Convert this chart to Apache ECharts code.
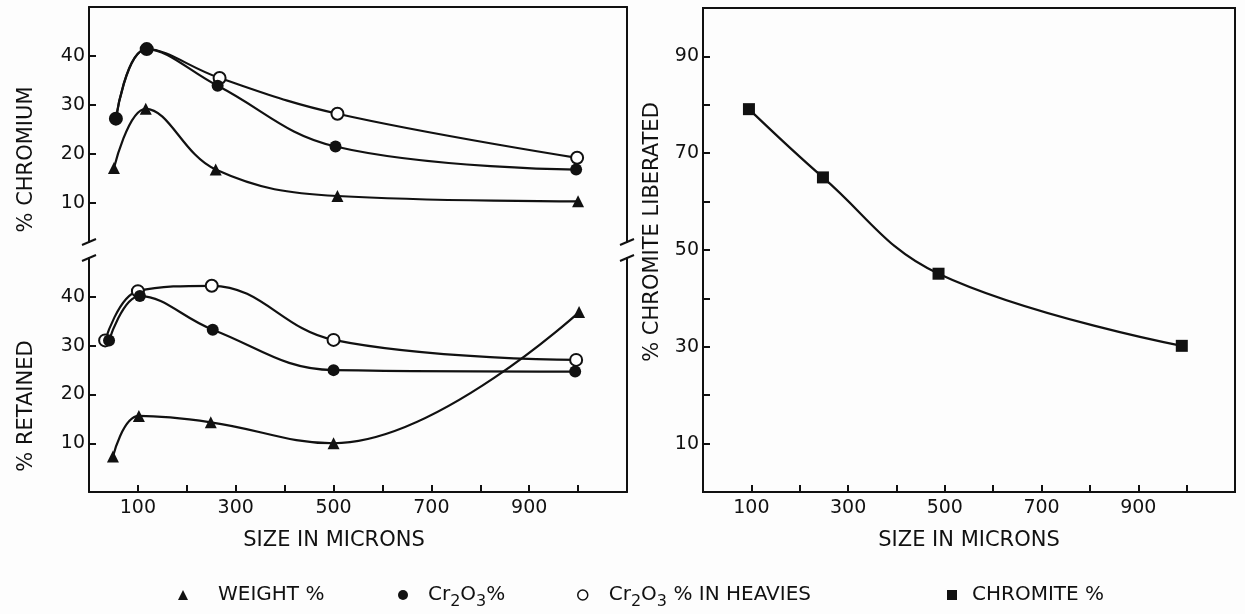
<!DOCTYPE html>
<html>
<head>
<meta charset="utf-8">
<script src="https://cdn.jsdelivr.net/npm/echarts@6/dist/echarts.min.js"></script>
<style>
html,body{margin:0;padding:0;background:#fdfdfd;}
#c{width:1245px;height:614px;}
</style>
</head>
<body>
<div id="c"></div>
<script>
// ---- data (size in microns, percent) ----
const chromiumWeight   = [[51,17.1],[116,29.2],[259,16.8],[508,11.4],[1000,10.3]];
const chromiumCr2O3    = [[55,27.2],[118,41.4],[263,33.9],[504,21.5],[996,16.8]];
const chromiumHeavies  = [[55,27.2],[118,41.4],[267,35.5],[508,28.2],[998,19.2]];
const retainedWeight   = [[49,7.3],[102,15.6],[249,14.3],[500,10.0],[1002,36.9]];
const retainedCr2O3    = [[41,31.1],[104,40.2],[253,33.3],[500,25.0],[994,24.7]];
const retainedHeavies  = [[33,31.1],[100,41.2],[251,42.3],[500,31.2],[996,27.1]];
const chromiteLiberated= [[95,79.1],[248,65.0],[487,45.1],[990,30.2]];

const xTicks = [100,200,300,400,500,600,700,800,900,1000];
const xLabels = [100,300,500,700,900];
const leftYTicks = [10,20,30,40];
const rightYTicks = [10,20,30,40,50,60,70,80,90];
const rightYLabels = [10,30,50,70,90];

const names = ['WEIGHT %','Cr2O3%','Cr2O3 % IN HEAVIES','CHROMITE %'];

// ---- layout ----
const INK = '#111';
const FONT = 'DejaVu Sans';
const L = 89, R = 627, TOPB = 242, BOTB = 258, BASE = 492;

const chart = echarts.init(document.getElementById('c'));

function xAxisBase(grid, pad){
  return {
    type:'value', gridIndex:grid, min:0, max:1100,
    axisLine:{show:true, lineStyle:{color:INK, width:2}},
    axisTick:{show:true, inside:true, length:7, lineStyle:{color:INK, width:2}, customValues:xTicks},
    axisLabel:{show:true, color:INK, fontSize:19, fontFamily:FONT, margin:7, customValues:xLabels},
    splitLine:{show:false},
    name:'SIZE IN MICRONS', nameLocation:'middle', nameGap:38,
    nameTextStyle:{color:INK, fontSize:21, fontFamily:FONT, padding:pad}
  };
}
function yEdge(grid, min, max){
  return {type:'value', gridIndex:grid, position:'right', min:min, max:max,
    axisLine:{show:true, lineStyle:{color:INK, width:2}},
    axisTick:{show:false}, axisLabel:{show:false}, splitLine:{show:false}};
}
function yMain(grid, min, max, ticks, labels, name, gap, pad){
  return {type:'value', gridIndex:grid, min:min, max:max,
    axisLine:{show:true, lineStyle:{color:INK, width:2}},
    axisTick:{show:true, inside:true, length:7, lineStyle:{color:INK, width:2}, customValues:ticks},
    axisLabel:{show:true, color:INK, fontSize:19, fontFamily:FONT, margin:4, customValues:labels},
    splitLine:{show:false},
    name:name, nameLocation:'middle', nameGap:gap,
    nameTextStyle:{color:INK, fontSize:21, fontFamily:FONT, padding:pad}};
}

const lineBase = {type:'line', smooth:0.4, symbolSize:12,
  lineStyle:{color:INK, width:2.2}, emphasis:{disabled:true}};
function ser(name, data, xi, yi, symbol, hollow){
  return Object.assign({}, lineBase, {
    name:name, data:data, xAxisIndex:xi, yAxisIndex:yi, symbol:symbol,
    itemStyle: hollow ? {color:'#fff', borderColor:INK, borderWidth:2} : {color:INK}
  });
}

const legendIcons = [
  {name:names[0], icon:'triangle', itemStyle:{color:INK}},
  {name:names[1], icon:'circle', itemStyle:{color:INK}},
  {name:names[2], icon:'circle', itemStyle:{color:'#fff', borderColor:INK, borderWidth:1.5}},
  {name:names[3], icon:'rect', itemStyle:{color:INK}}
];
const legendLeft = [173, 393, 572, 942];
const legendPad  = [25, 15, 16, 10];
const legends = legendIcons.map((d,i)=>({
  left:legendLeft[i], top:580, orient:'horizontal', selectedMode:false,
  itemWidth:10, itemHeight:10, data:[d],
  formatter: n => n.replace(/(\d)/g,'{s|$1}'),
  textStyle:{color:INK, fontSize:20, fontFamily:FONT, padding:[0,0,0,legendPad[i]],
    rich:{s:{color:INK, fontSize:16, fontFamily:FONT, padding:[14,0,0,0]}}}
}));

const brk = (x,y)=>({type:'line', shape:{x1:x-7,y1:y+3,x2:x+7,y2:y-3},
  style:{stroke:INK, lineWidth:2}, silent:true});

chart.setOption({
  backgroundColor:'#fdfdfd',
  animation:false,
  grid:[
    {left:L, top:7, width:R-L, height:TOPB-7},
    {left:L, top:BOTB, width:R-L, height:BASE-BOTB},
    {left:703, top:8, width:532, height:BASE-8, show:true, borderColor:INK, borderWidth:2}
  ],
  xAxis:[
    {type:'value', gridIndex:0, position:'top', min:0, max:1100,
      axisLine:{show:true, lineStyle:{color:INK, width:2}},
      axisTick:{show:false}, axisLabel:{show:false}, splitLine:{show:false}},
    xAxisBase(1, [0,48,0,0]),
    xAxisBase(2, [0,0,0,0])
  ],
  yAxis:[
    yMain(0, 2, 50, leftYTicks, leftYTicks, '% CHROMIUM', 52, [0,70,0,0]),
    yEdge(0, 2, 50),
    yMain(1, 0, 48, leftYTicks, leftYTicks, '% RETAINED', 52, [0,62,0,0]),
    yEdge(1, 0, 48),
    yMain(2, 0, 100, rightYTicks, rightYLabels, '% CHROMITE LIBERATED', 40, [0,0,0,36])
  ],
  legend: legends,
  series:[
    ser(names[2], chromiumHeavies, 0, 0, 'circle', true),
    ser(names[1], chromiumCr2O3, 0, 0, 'circle', false),
    ser(names[0], chromiumWeight, 0, 0, 'triangle', false),
    ser(names[2], retainedHeavies, 1, 2, 'circle', true),
    ser(names[1], retainedCr2O3, 1, 2, 'circle', false),
    ser(names[0], retainedWeight, 1, 2, 'triangle', false),
    ser(names[3], chromiteLiberated, 2, 4, 'rect', false)
  ],
  graphic:[brk(L,TOPB), brk(L,BOTB), brk(R,TOPB), brk(R,BOTB)]
});
</script>
</body>
</html>
